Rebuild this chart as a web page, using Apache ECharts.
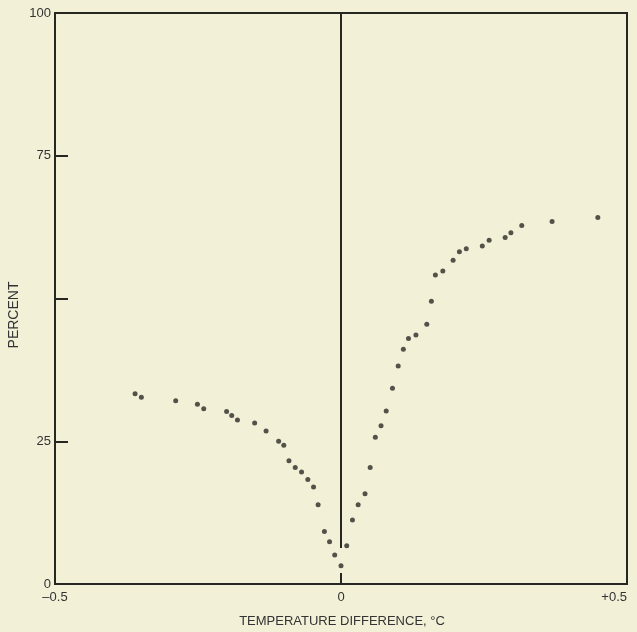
<!DOCTYPE html>
<html>
<head>
<meta charset="utf-8">
<script src="https://cdn.jsdelivr.net/npm/echarts@6/dist/echarts.min.js"></script>
<style>
  html, body { margin: 0; padding: 0; background: #f3f0d8; }
  #chart { width: 637px; height: 632px; }
</style>
</head>
<body>
<div id="chart"></div>
<script>
// temperature difference (°C) and percent
const tempDiff = [
  -0.360, -0.349, -0.289, -0.251, -0.240, -0.200, -0.191, -0.181, -0.151, -0.131,
  -0.109, -0.100, -0.091, -0.080, -0.069, -0.058, -0.048, -0.040, -0.029, -0.020,
  -0.011, 0.000, 0.010, 0.020, 0.030, 0.042, 0.051, 0.060, 0.070, 0.079,
  0.090, 0.100, 0.109, 0.118, 0.131, 0.150, 0.158, 0.165, 0.178, 0.196,
  0.207, 0.219, 0.247, 0.259, 0.287, 0.297, 0.316, 0.369, 0.449
];
const percent = [
  33.3, 32.7, 32.1, 31.5, 30.7, 30.2, 29.5, 28.7, 28.2, 26.8,
  25.0, 24.3, 21.6, 20.4, 19.6, 18.3, 17.0, 13.9, 9.2, 7.4,
  5.1, 3.2, 6.7, 11.2, 13.9, 15.8, 20.4, 25.7, 27.7, 30.3,
  34.3, 38.2, 41.1, 43.0, 43.6, 45.5, 49.5, 54.1, 54.8, 56.7,
  58.2, 58.7, 59.2, 60.2, 60.7, 61.5, 62.8, 63.5, 64.2
];
const yTickLabels = { 0: '0', 25: '25', 50: '', 75: '75', 100: '100' };
const zeroLineFrom = 6.3;

const ink = '#262622';
const font = "'Liberation Sans', Arial, sans-serif";

const chart = echarts.init(document.getElementById('chart'));

chart.setOption({
  backgroundColor: '#f3f0d8',
  animation: false,
  grid: {
    left: 55, right: 10, top: 13, bottom: 48,
    show: true,
    borderColor: ink,
    borderWidth: 2,
    backgroundColor: 'transparent'
  },
  xAxis: {
    type: 'value',
    min: -0.5,
    max: 0.5,
    interval: 0.5,
    axisLine: { onZero: false, lineStyle: { color: ink, width: 2 } },
    axisTick: { inside: true, length: 11, lineStyle: { color: ink, width: 2 } },
    splitLine: { show: false },
    axisLabel: {
      color: '#333',
      fontFamily: font,
      fontSize: 13,
      margin: 7,
      alignMaxLabel: 'right',
      formatter: function (v) {
        if (v > 0) return '+' + v;
        if (v === 0) return '0';
        return '\u20130.5';
      }
    }
  },
  yAxis: {
    type: 'value',
    min: 0,
    max: 100,
    interval: 25,
    axisLine: { onZero: false, lineStyle: { color: ink, width: 2 } },
    axisTick: { inside: true, length: 13, lineStyle: { color: ink, width: 2 } },
    splitLine: { show: false },
    axisLabel: {
      color: '#333',
      fontFamily: font,
      fontSize: 13,
      margin: 4,
      formatter: function (v) { return yTickLabels[v]; }
    }
  },
  graphic: [
    {
      type: 'text',
      x: 14, y: 315,
      rotation: Math.PI / 2,
      style: {
        text: 'PERCENT',
        fill: '#333',
        font: '14px ' + font,
        textAlign: 'center',
        textVerticalAlign: 'middle'
      }
    },
    {
      type: 'text',
      x: 342, y: 621,
      style: {
        text: 'TEMPERATURE DIFFERENCE, \u00b0C',
        fill: '#333',
        font: '13px ' + font,
        textAlign: 'center',
        textVerticalAlign: 'middle'
      }
    }
  ],
  series: [
    {
      type: 'scatter',
      data: tempDiff.map((t, i) => [t, percent[i]]),
      symbolSize: 5,
      itemStyle: { color: '#2a2a26' },
      markLine: {
        silent: true,
        symbol: 'none',
        label: { show: false },
        lineStyle: { color: ink, width: 2, type: 'solid' },
        data: [[{ coord: [0, zeroLineFrom] }, { coord: [0, 100] }]]
      }
    }
  ]
});
</script>
</body>
</html>
